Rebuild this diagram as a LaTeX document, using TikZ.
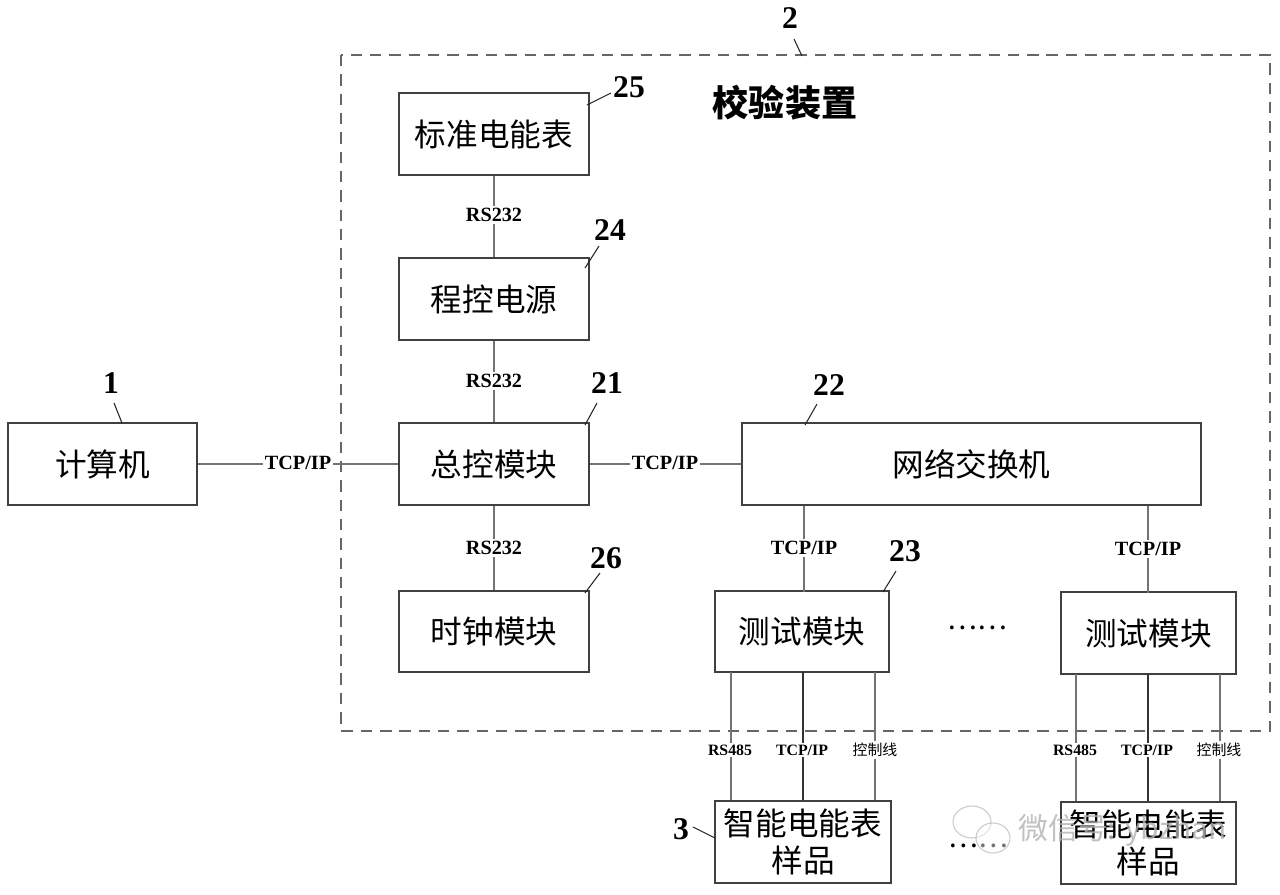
\documentclass[tikz,border=0pt]{standalone}
\usepackage{fontspec}
\setmainfont{Liberation Serif}
\newfontfamily\cjk{Noto Sans CJK SC}
\begin{document}
\begin{tikzpicture}[x=0.02cm,y=-0.02cm,
  box/.style={draw=black!75, line width=0.8pt, fill=white, inner sep=0pt,
    font=\cjk\fontsize{18}{21}\selectfont, align=center},
  conn/.style={draw=black!55, line width=0.6pt},
  lab/.style={fill=white, inner sep=1pt, font=\bfseries\fontsize{11.5}{13}\selectfont},
  slab/.style={fill=white, inner sep=1pt, font=\bfseries\fontsize{9}{11}\selectfont},
  clab/.style={fill=white, inner sep=1pt, font=\cjk\fontsize{8.5}{10}\selectfont},
  num/.style={inner sep=0pt, font=\bfseries\fontsize{18}{20}\selectfont},
  lead/.style={draw=black!85, line width=0.6pt},
  frame/.style={draw=black!60, line width=0.6pt, dash pattern=on 6.5pt off 4.5pt}
]
\fill[white] (0,0) rectangle (1280,894);
\useasboundingbox (0,0) rectangle (1280,894);

% dashed enclosure
\draw[frame] (341,55) rectangle (1270,731);

% boxes
\node[box, minimum width=189*0.02cm, minimum height=82*0.02cm] (comp) at (102.5,464) {计算机};
\node[box, minimum width=190*0.02cm, minimum height=82*0.02cm] (b25) at (494,134) {标准电能表};
\node[box, minimum width=190*0.02cm, minimum height=82*0.02cm] (b24) at (494,299) {程控电源};
\node[box, minimum width=190*0.02cm, minimum height=82*0.02cm] (b21) at (494,464) {总控模块};
\node[box, minimum width=190*0.02cm, minimum height=81*0.02cm] (b26) at (494,631.5) {时钟模块};
\node[box, minimum width=459*0.02cm, minimum height=82*0.02cm] (b22) at (971.5,464) {网络交换机};
\node[box, minimum width=174*0.02cm, minimum height=81*0.02cm] (t1) at (802,631.5) {测试模块};
\node[box, minimum width=175*0.02cm, minimum height=82*0.02cm] (t2) at (1148.5,633) {测试模块};
\node[box, minimum width=176*0.02cm, minimum height=82*0.02cm] (s1) at (803,842) {智能电能表\\样品};
\node[box, minimum width=175*0.02cm, minimum height=82*0.02cm] (s2) at (1148.5,843) {智能电能表\\样品};

% title
\node[inner sep=0pt, font=\cjk\bfseries\fontsize{20.5}{24}\selectfont] (title) at (785,103) {校验装置};

% connectors
\draw[conn] (comp.east) -- (b21.west);
\node[lab] (l1) at (298,463) {TCP/IP};
\draw[conn] (b25.south) -- (b24.north);
\node[lab] (l2) at (494,215) {RS232};
\draw[conn] (b24.south) -- (b21.north);
\node[lab] (l3) at (494,381) {RS232};
\draw[conn] (b21.south) -- (b26.north);
\node[lab] (l4) at (494,548) {RS232};
\draw[conn] (b21.east) -- (b22.west);
\node[lab] (l5) at (665,463) {TCP/IP};

\coordinate (v1) at (804,591.5);
\draw[conn] (v1) -- (v1 |- b22.south);
\node[lab] (l6) at (804,548) {TCP/IP};
\coordinate (v2) at (1148,592.5);
\draw[conn] (v2) -- (v2 |- b22.south);
\node[lab] (l7) at (1148,549) {TCP/IP};

% test module -> samples
\coordinate (a1) at (731,672);
\coordinate (a2) at (803,672);
\coordinate (a3) at (875,672);
\draw[conn] (a1) -- (a1 |- s1.north);
\draw[conn, draw=black!80] (a2) -- (a2 |- s1.north);
\draw[conn] (a3) -- (a3 |- s1.north);
\node[slab] (m1) at (730,750) {RS485};
\node[slab] (m2) at (802,750) {TCP/IP};
\node[clab] (m3) at (875,750) {控制线};

\coordinate (c1) at (1076,674);
\coordinate (c2) at (1148,674);
\coordinate (c3) at (1220,674);
\draw[conn] (c1) -- (c1 |- s2.north);
\draw[conn, draw=black!80] (c2) -- (c2 |- s2.north);
\draw[conn] (c3) -- (c3 |- s2.north);
\node[slab] (n1) at (1075,750) {RS485};
\node[slab] (n2) at (1147,750) {TCP/IP};
\node[clab] (n3) at (1219,750) {控制线};

% ellipses
\node[inner sep=0pt, font=\cjk\fontsize{16}{18}\selectfont] (dots1) at (977,628) {……};
\node[inner sep=0pt, font=\cjk\fontsize{16}{18}\selectfont] (dots2) at (978,846) {……};

% reference numbers with leaders
\node[num] (n2top) at (790,18) {2};
\coordinate (e2a) at (794,39); \coordinate (e2b) at (802,56);
\draw[lead] (e2a) -- (e2b);
\node[num] (n25) at (629,87) {25};
\coordinate (e25a) at (587,105); \coordinate (e25b) at (611,93);
\draw[lead] (e25a) -- (e25b);
\node[num] (n24) at (610,230) {24};
\coordinate (e24a) at (585,268); \coordinate (e24b) at (599,246);
\draw[lead] (e24a) -- (e24b);
\node[num] (n21) at (607,383) {21};
\coordinate (e21a) at (585,425); \coordinate (e21b) at (597,403);
\draw[lead] (e21a) -- (e21b);
\node[num] (n22) at (829,385) {22};
\coordinate (e22a) at (805,425); \coordinate (e22b) at (817,404);
\draw[lead] (e22a) -- (e22b);
\node[num] (n23) at (905,551) {23};
\coordinate (e23a) at (883,592); \coordinate (e23b) at (896,571);
\draw[lead] (e23a) -- (e23b);
\node[num] (n26) at (606,558) {26};
\coordinate (e26a) at (585,593); \coordinate (e26b) at (600,573);
\draw[lead] (e26a) -- (e26b);
\node[num] (n1) at (111,383) {1};
\coordinate (e1a) at (114,403); \coordinate (e1b) at (122,423);
\draw[lead] (e1a) -- (e1b);
\node[num] (n3) at (681,829) {3};
\coordinate (e3a) at (693,827); \coordinate (e3b) at (715,838);
\draw[lead] (e3a) -- (e3b);

% watermark
\begin{scope}[opacity=0.45]
  \draw[black!45, line width=0.6pt] (972,822) ellipse (19 and 16);
  \filldraw[fill=white, draw=black!45, line width=0.6pt] (993,838) ellipse (17 and 15);
\end{scope}
\node[inner sep=0pt, text=black!30, text opacity=0.8, font=\cjk\fontsize{17}{20}\selectfont, anchor=west] (wm) at (1018,830) {微信号: ybzhan};
\end{tikzpicture}
\end{document}
